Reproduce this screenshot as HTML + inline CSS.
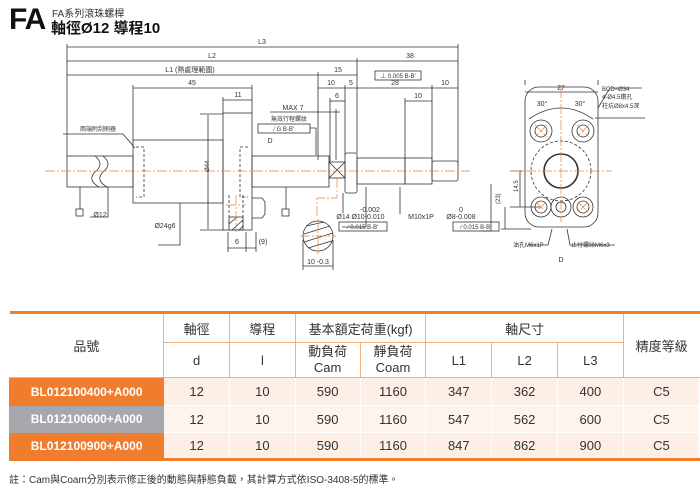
<!DOCTYPE html>
<html><head><meta charset="utf-8"><style>
body{margin:0;width:700px;height:489px;background:#fff;overflow:hidden;position:relative;font-family:"Liberation Sans","Noto Sans CJK TC",sans-serif}
.t{position:absolute;left:9px;top:311px;border-collapse:collapse;border-top:3px solid #ef7d2d;border-bottom:3px solid #ef7d2d;font-family:"Liberation Sans","Noto Sans CJK TC",sans-serif}
.t td{border:1px solid #f3b07f;text-align:center;padding:0;font-size:13px;color:#333}
.t tr.h td{background:#fff}
.t tr.d td{background:#fdefe5;border-color:#fff;border-left-color:#f6cdb0}
.t tr.d2 td{background:#fef4ee}
.t tr.d td.o{background:#ef7d2d;color:#fff;font-weight:bold;font-size:12px;border-color:#ef7d2d}
.t tr.d td.g{background:#a6a8ab;color:#fff;font-weight:bold;font-size:12px;border-color:#a6a8ab}
</style></head><body>
<div style="position:absolute;left:9px;top:3px;font-size:30px;font-weight:bold;color:#111;letter-spacing:-1px">FA</div>
<div style="position:absolute;left:52px;top:5px;font-size:10px;color:#333">FA系列滾珠螺桿</div>
<div style="position:absolute;left:51px;top:17px;font-size:15px;font-weight:bold;color:#111">軸徑Ø12 導程10</div>
<svg style="position:absolute;left:0;top:0" width="700" height="300" font-family="Liberation Sans,Noto Sans CJK TC,sans-serif" font-size="7" fill="#333">
<g stroke="#333" stroke-width="0.8" fill="none">
<line x1="67" y1="47" x2="458" y2="47"/><line x1="67" y1="61" x2="357" y2="61"/><line x1="357" y1="61" x2="458" y2="61"/>
<line x1="67" y1="75" x2="318" y2="75"/><line x1="318" y1="75" x2="357" y2="75"/>
<line x1="318" y1="88" x2="458" y2="88"/><line x1="133" y1="88" x2="252" y2="88"/>
<line x1="223" y1="100" x2="252" y2="100"/><line x1="330" y1="101" x2="345" y2="101"/><line x1="405" y1="101" x2="432" y2="101"/>
<line x1="270" y1="112" x2="340" y2="112"/>
<line x1="67" y1="44" x2="67" y2="156"/><line x1="458" y1="44" x2="458" y2="165"/><line x1="357" y1="58" x2="357" y2="153"/>
<line x1="318" y1="72" x2="318" y2="160"/><line x1="345" y1="85" x2="345" y2="155"/><line x1="432" y1="85" x2="432" y2="160"/>
<line x1="133" y1="85" x2="133" y2="140"/><line x1="252" y1="85" x2="252" y2="113"/><line x1="223" y1="97" x2="223" y2="113"/>
<line x1="330" y1="98" x2="330" y2="162"/><line x1="405" y1="98" x2="405" y2="158"/><line x1="336" y1="109" x2="336" y2="160"/>
<line x1="208" y1="115" x2="208" y2="229"/><line x1="200" y1="114" x2="223" y2="114"/><line x1="200" y1="230" x2="223" y2="230"/>
<rect x="67" y="156" width="66" height="31"/>
<path d="M95 156 q10 8 0 16 q-8 8 4 15 M103 156 q10 8 0 16 q-8 8 4 15"/>
<rect x="133" y="140" width="90" height="63"/>
<rect x="223" y="113" width="29" height="117"/>
<rect x="252" y="156" width="77" height="31"/>
<rect x="329" y="162" width="16" height="16"/><path d="M329 162 L345 178 M345 162 L329 178"/>
<rect x="345" y="153" width="12" height="40" rx="2"/>
<rect x="357" y="158" width="48" height="26"/><rect x="405" y="158" width="27" height="26"/><rect x="432" y="161" width="26" height="20" rx="2"/>
<path d="M136 147 h8 v50 h-8" stroke-dasharray="3 2"/><path d="M248 147 h-8 v50 h8" stroke-dasharray="3 2"/>
<path d="M229 195 v35 M243 195 v35" stroke-dasharray="3 2"/>
<path d="M252 198 l10 0 l3 4 v12 l-3 4 h-10"/>
<rect x="229" y="217" width="14" height="13"/><path d="M229 224 l8 -7 M232 230 l11 -10 M239 230 l4 -4" />
<circle cx="318" cy="236" r="15"/><path d="M306 226 l18 -4 M304 234 l26 -8 M304 242 l29 -9 M308 248 l24 -7" />
<line x1="303" y1="240" x2="303" y2="270"/><line x1="333" y1="240" x2="333" y2="270"/><line x1="303" y1="266" x2="333" y2="266"/>
<path d="M63 134 h60 l12 14"/><path d="M80 187 v22"/><path d="M286 187 v22"/><path d="M108 187 v30 h-18"/><path d="M180 203 v42 h-22"/>
<path d="M228 232 v20 M246 232 v20 M256 232 v20 M228 248 h28"/>
<path d="M343 193 v20 M366 187 v40 h-24 M400 187 v27 M491 184 v47 h-10"/>
<rect x="339" y="222" width="48" height="9"/><rect x="453" y="222" width="46" height="9"/>
<rect x="258" y="124" width="52" height="9"/><path d="M310 128 h6 v27"/>
<rect x="375" y="71" width="46" height="9"/>
<rect x="76" y="209" width="7" height="7"/><rect x="282" y="209" width="7" height="7"/>
<rect x="525" y="87" width="73" height="140" rx="14"/>
<circle cx="541" cy="131" r="11"/><circle cx="541" cy="131" r="6"/><circle cx="583" cy="131" r="11"/><circle cx="583" cy="131" r="6"/>
<circle cx="561" cy="171" r="30" stroke-dasharray="3 2"/><circle cx="561" cy="171" r="17" stroke-width="1.6"/>
<circle cx="541" cy="207" r="10"/><circle cx="541" cy="207" r="6"/><circle cx="583" cy="207" r="10"/><circle cx="583" cy="207" r="6"/>
<circle cx="561" cy="207" r="10"/><circle cx="561" cy="207" r="5"/>
<line x1="525" y1="85" x2="525" y2="80"/><line x1="598" y1="85" x2="598" y2="80"/><line x1="525" y1="92" x2="598" y2="92"/>
<path d="M529 119 q32 -22 64 0"/>
<path d="M510 171 h12 M510 207 h30 M501 229 h30 M520 171 v36 M505 207 v22"/>
<path d="M552 229 l-4 16 h-20 M567 229 l3 16 h45"/>
<path d="M598 108 l12 -20 h32 M595 118 h50"/>
</g>
<g stroke="#e8833a" stroke-width="0.7" fill="none" stroke-dasharray="10 2 2 2">
<line x1="45" y1="171" x2="470" y2="171"/><line x1="300" y1="236" x2="336" y2="236"/><line x1="318" y1="219" x2="318" y2="254"/>
<path d="M337 178 v20 h-20 v20"/>
<line x1="226" y1="205" x2="246" y2="205"/><line x1="236" y1="195" x2="236" y2="232"/>
<line x1="510" y1="171" x2="612" y2="171"/><line x1="561" y1="88" x2="561" y2="222"/>
<path d="M535 125 l12 12 M547 125 l-12 12 M577 125 l12 12 M589 125 l-12 12 M536 202 l10 10 M546 202 l-10 10 M578 202 l10 10 M588 202 l-10 10"/>
</g>
<g text-anchor="middle">
<text x="262" y="44">L3</text><text x="212" y="58">L2</text><text x="410" y="58">38</text>
<text x="190" y="72">L1 (熱處理範圍)</text><text x="338" y="72">15</text>
<text x="331" y="85">10</text><text x="351" y="85">5</text><text x="395" y="85">28</text><text x="445" y="85">10</text>
<text x="192" y="85">45</text><text x="238" y="97">11</text><text x="337" y="98">6</text><text x="418" y="98">10</text>
<text x="293" y="110">MAX 7</text><text x="289" y="121" font-size="6">無效行程螺紋</text>
<text x="98" y="131" font-size="6">兩端附刮刷器</text>
<text x="270" y="143">D</text>
<text x="100" y="217">Ø12</text><text x="165" y="228">Ø24g6</text>
<text x="237" y="244">6</text><text x="263" y="244">(9)</text>
<text x="318" y="264">10 -0.3</text>
<text x="343" y="219">Ø14</text><text x="370" y="212">-0.002</text><text x="368" y="219">Ø10-0.010</text>
<text x="421" y="219">M10x1P</text><text x="461" y="212">0</text><text x="461" y="219">Ø8-0.008</text>
<text x="363" y="229" font-size="6">⁄ 0.015  B-B'</text><text x="476" y="229" font-size="6">⁄ 0.015  B-B'</text>
<text x="284" y="131" font-size="6">⁄ G  B-B'</text><text x="398" y="78" font-size="6">⊥ 0.005  B-B'</text>
<text x="561" y="90">27</text><text x="542" y="106">30°</text><text x="580" y="106">30°</text>
<text x="561" y="262">D</text>
</g>
<text x="206" y="175" font-size="6" transform="rotate(-90 206 172)">Ø44</text>
<text x="500" y="204" font-size="6" transform="rotate(-90 500 204)">(23)</text>
<text x="518" y="192" font-size="6" transform="rotate(-90 518 192)">14.5</text>
<text x="602" y="91" font-size="6">BCD=Ø34</text><text x="602" y="99" font-size="6">4-Ø4.5鑽孔</text><text x="602" y="108" font-size="6">柱坑Ø8x4.5深</text>
<text x="513" y="247" font-size="6">油孔M6x1P</text><text x="571" y="247" font-size="6">止付螺絲M6x3</text>
</svg>
<table class="t">
<tr class="h" style="height:30px"><td rowspan="2" style="width:154px;border-left:none">品號</td><td style="width:65px">軸徑</td><td style="width:65px">導程</td><td colspan="2">基本額定荷重(kgf)</td><td colspan="3">軸尺寸</td><td rowspan="2" style="width:76px;border-right:none">精度等級</td></tr>
<tr class="h" style="height:35px"><td>d</td><td>l</td><td style="width:64px;line-height:16px">動負荷<br>Cam</td><td style="width:65px;line-height:16px">靜負荷<br>Coam</td><td style="width:65px">L1</td><td style="width:65px">L2</td><td style="width:65px">L3</td></tr>
<tr class="d" style="height:28px"><td class="o">BL012100400+A000</td><td>12</td><td>10</td><td>590</td><td>1160</td><td>347</td><td>362</td><td>400</td><td>C5</td></tr>
<tr class="d d2" style="height:27px"><td class="g">BL012100600+A000</td><td>12</td><td>10</td><td>590</td><td>1160</td><td>547</td><td>562</td><td>600</td><td>C5</td></tr>
<tr class="d" style="height:27px"><td class="o">BL012100900+A000</td><td>12</td><td>10</td><td>590</td><td>1160</td><td>847</td><td>862</td><td>900</td><td>C5</td></tr>
</table>
<div style="position:absolute;left:9px;top:471px;font-size:10px;color:#333">註：Cam與Coam分別表示修正後的動態與靜態負載，其計算方式依ISO-3408-5的標準。</div>
</body></html>
